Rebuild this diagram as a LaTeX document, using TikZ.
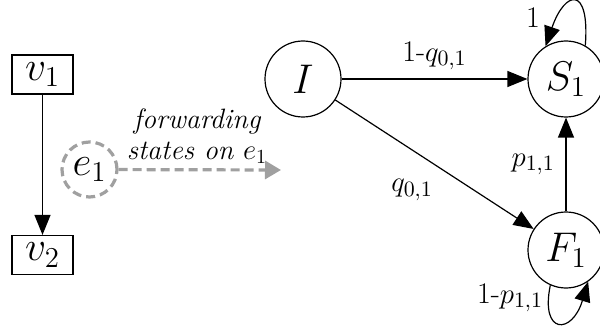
\documentclass[tikz,border=0pt]{standalone}
\usetikzlibrary{arrows.meta}
\definecolor{dgray}{RGB}{160,160,160}
\begin{document}
\begin{tikzpicture}[x=0.5pt,y=-0.5pt,
  big/.style={font=\fontsize{21.5}{23}\selectfont},
  mid/.style={font=\itshape\fontsize{14}{15}\selectfont},
  small/.style={font=\fontsize{15}{17}\selectfont},
  state/.style={circle,draw,line width=0.6pt,minimum size=38pt,inner sep=0pt,big},
  vbox/.style={draw,line width=0.6pt,minimum width=30.5pt,minimum height=19.5pt,inner sep=0pt,big},
  arr/.style={line width=0.6pt,-{Triangle[length=10pt,width=8pt]}}]
\useasboundingbox (0,0) rectangle (600,326);
\node[vbox] (v1) at (42.5,74.5) {$v_1$};
\node[vbox] (v2) at (42.5,255) {$v_2$};
\draw[arr] (v1) -- (v2);
\node[circle,draw=dgray,dash pattern=on 4.5pt off 2.5pt,line width=1.6pt,minimum size=27.5pt,inner sep=0pt,big] (e1) at (89.5,169.5) {$e_1$};
\coordinate (tip) at (281,170);
\draw[draw=dgray,line width=1.6pt,dash pattern=on 4.5pt off 2.5pt,-{Triangle[length=8pt,width=9pt,fill=dgray]}] (e1) -- (tip);
\node[mid] (t1) at (197,122) {forwarding};
\node[mid] (t2) at (197,153) {states on $e_1$};
\node[state] (I) at (303,79) {$I$};
\node[state] (S) at (566,79) {$S_1$};
\node[state] (F) at (566,250) {$F_1$};
\draw[arr] (I) -- node[small,above=1pt] {1-$q_{0,1}$} (S);
\draw[arr] (I) -- (F);
\node[small] (lq) at (412,190) {$q_{0,1}$};
\draw[arr] (F) -- node[small,left=2pt] {$p_{1,1}$} (S);
\draw[arr] (S.60) .. controls (590,-15) and (565,-10) .. (S.122);
\node[small] (l1) at (533,18) {1};
\draw[arr] (F.-114) .. controls (540,335) and (572,335) .. (F.-55);
\node[small] (l2) at (510,298) {1-$p_{1,1}$};
\end{tikzpicture}
\end{document}
